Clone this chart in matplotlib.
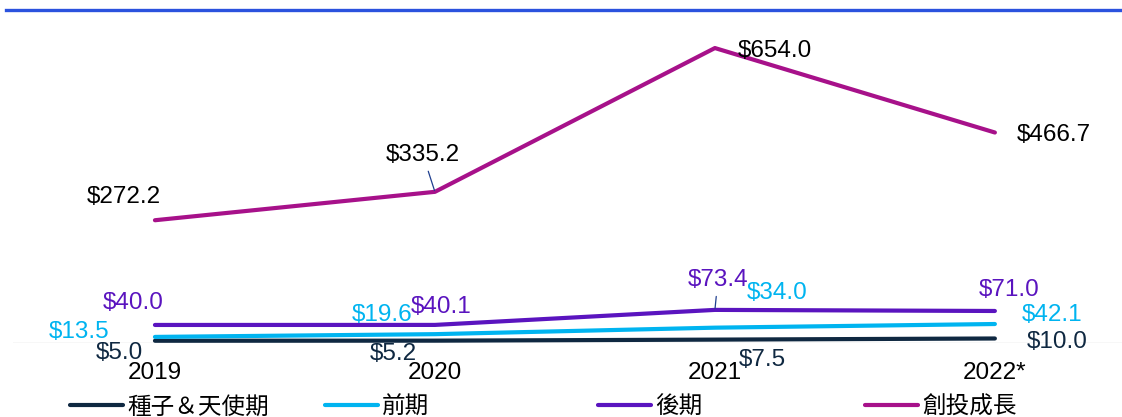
import matplotlib
matplotlib.use("Agg")
import matplotlib.pyplot as plt
from matplotlib.lines import Line2D

plt.rcParams['font.family'] = ['Liberation Sans', 'Noto Sans CJK TC', 'DejaVu Sans']

# ---- data ----
years = ["2019", "2020", "2021", "2022*"]
series_names = ["種子＆天使期", "前期", "後期", "創投成長"]
seed = [5.0, 5.2, 7.5, 10.0]
early = [13.5, 19.6, 34.0, 42.1]
late = [40.0, 40.1, 73.4, 71.0]
growth = [272.2, 335.2, 654.0, 466.7]

# ---- style ----
colors = ["#0F2841", "#00B4F0", "#5A14BF", "#A7118A"]
label_colors = ["#0F2841", "#00B4F0", "#5A14BF", "#000000"]
# label offsets in pixels (dx, dy up), per series per year
offsets = [
    [(-36, -10), (-42, -11), (47, -18), (62, -1.5)],
    [(-76, 7), (-53, 21), (62, 37), (57, 11)],
    [(-22, 24), (6, 20), (3, 32), (14, 23)],
    [(-31, 25), (-12, 39), (60, -1), (59, 0)],
]
dy_shift = -2
leaders = {(3, 1), (2, 2)}
fs = 17.5

W, H = 1122, 417
fig = plt.figure(figsize=(W / 100, H / 100), dpi=100)
ax = fig.add_axes([13 / W, (H - 343) / H, (W - 13) / W, 333 / H])
ax.set_xlim(-0.507, 3.454)
ax.set_ylim(0, 333 / 0.451)
for s in ax.spines.values():
    s.set_visible(False)
ax.axhline(0, color="#D9D9D9", lw=1.0, zorder=1)
ax.set_yticks([])
x = list(range(len(years)))
ax.set_xticks(x)
ax.set_xticklabels(years, fontsize=fs)
ax.tick_params(axis='x', length=0, pad=13.5)

data = [seed, early, late, growth]
handles = []
for i, (vals, name) in enumerate(zip(data, series_names)):
    ln, = ax.plot(x, vals, color=colors[i], lw=3, solid_capstyle='round',
                  solid_joinstyle='round', zorder=3, clip_on=False, label=name)
    handles.append(ln)

px2pt = 0.72
for i, vals in enumerate(data):
    for j, v in enumerate(vals):
        dx, dy = offsets[i][j]
        kw = {}
        if (i, j) in leaders:
            kw['arrowprops'] = dict(arrowstyle='-', color='#1F3F8F', lw=0.9,
                                    shrinkA=2, shrinkB=1)
        ax.annotate(f"${v:.1f}", xy=(j, v),
                    xytext=(dx * px2pt, (dy + dy_shift) * px2pt),
                    textcoords='offset points', ha='center', va='center',
                    fontsize=fs, color=label_colors[i], zorder=4, **kw)

# top rule
fig.add_artist(Line2D([6 / W, 1.0], [(H - 10) / H, (H - 10) / H],
                      color="#2B52DE", lw=2.4, transform=fig.transFigure))

# legend entries
leg_x = [70, 325, 598, 865]
for h, lx in zip(handles, leg_x):
    leg = fig.legend(handles=[h], loc='center left',
                     bbox_to_anchor=(lx / W, (H - 407.5) / H),
                     frameon=False, fontsize=17, handlelength=2.25,
                     handletextpad=0.17, borderpad=0, borderaxespad=0)

fig.savefig("out.png", dpi=100)
